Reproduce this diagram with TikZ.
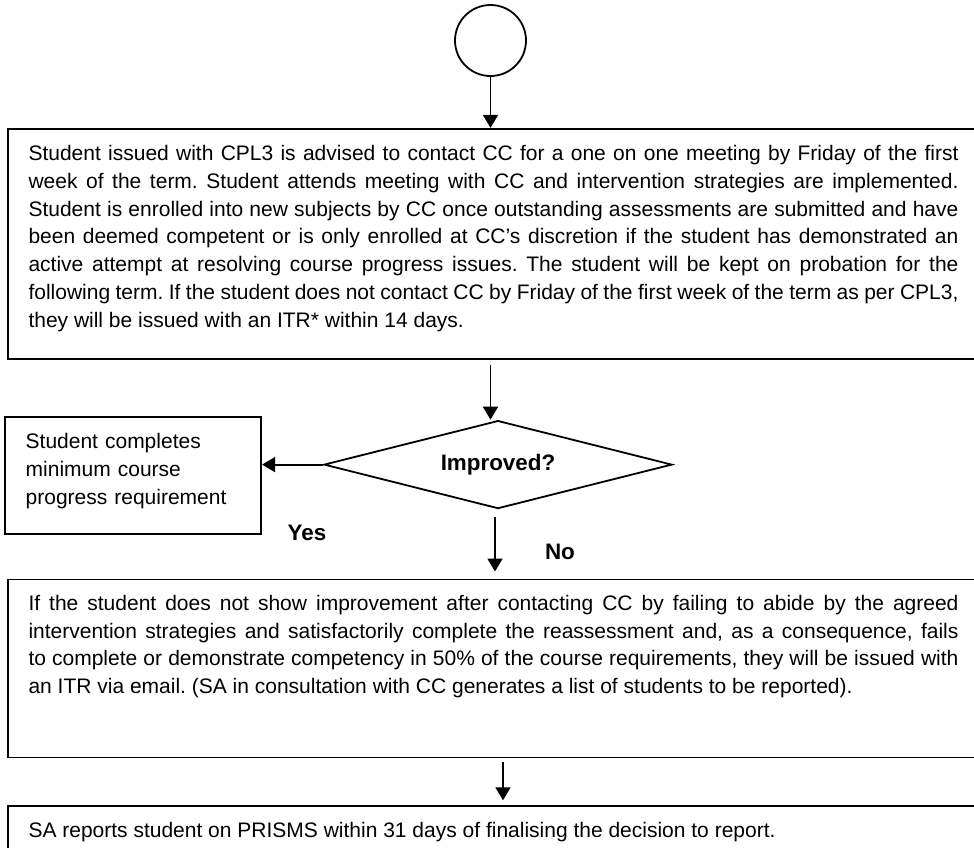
\documentclass[tikz,border=0pt]{standalone}
\usepackage{fontspec}
\setmainfont{Liberation Sans}
\usetikzlibrary{positioning,shapes.geometric,arrows.meta}
\tikzstyle{box} = [rectangle,
                  draw=black,
                  line width=0.9pt,
                  text width=465pt,
                  inner xsep=10.25pt,
                  inner ysep=0pt,
                  align=justify,
                  font=\fontsize{10.5}{13.85}\selectfont\frenchspacing]
\tikzstyle{smallbox} = [box,
                       text width=107.5pt,
                       align=left]
\tikzstyle{terminal} = [circle,
                       draw=black,
                       line width=0.9pt,
                       minimum size=35.5pt,
                       inner sep=0pt]
\tikzstyle{decision} = [diamond,
                       aspect=4,
                       draw=black,
                       line width=0.9pt,
                       minimum width=174pt,
                       minimum height=44pt,
                       inner sep=0pt,
                       font=\fontsize{11.2}{13}\selectfont\bfseries]
\tikzstyle{answer} = [font=\fontsize{11.2}{13}\selectfont\bfseries]
\tikzstyle{flowchart} = [>={Triangle[width=7.5pt,length=6.5pt]},
                        line width=0.9pt]

\begin{document}
\begin{tikzpicture}[flowchart]
    \useasboundingbox (0,0) rectangle (487pt,-423.5pt);
    \node (start) [terminal] at (245.25pt,-20.25pt) {};
    \node (cpl) [box, text height=16pt, text depth=99pt, below=25.5pt of start, xshift=1.5pt]
      {Student issued with CPL3 is advised to contact CC for a one on one meeting by Friday of the first\linebreak
       week of the term. Student attends meeting with CC and intervention strategies are implemented.\linebreak
       Student is enrolled into new subjects by CC once outstanding assessments are submitted and have\linebreak
       been deemed competent or is only enrolled at CC’s discretion if the student has demonstrated an\linebreak
       active attempt at resolving course progress issues. The student will be kept on probation for the\linebreak
       following term. If the student does not contact CC by Friday of the first week of the term as per CPL3,\linebreak
       they will be issued with an ITR* within 14 days.};
    \node (improved) [decision, below=30pt of cpl, xshift=2.25pt] {Improved?};
    \node (complete) [smallbox, text height=16pt, text depth=42.5pt, left=30.5pt of improved, yshift=-5.25pt]
      {Student completes\\ minimum course\\ progress requirement};
    \node (itr) [box, text height=15.5pt, text depth=73.5pt, below=34.5pt of improved, xshift=-2.25pt]
      {If the student does not show improvement after contacting CC by failing to abide by the agreed\linebreak
       intervention strategies and satisfactorily complete the reassessment and, as a consequence, fails\linebreak
       to complete or demonstrate competency in 50\% of the course requirements, they will be issued with\linebreak
       an ITR via email. (SA in consultation with CC generates a list of students to be reported).};
    \node (report) [box, text height=15.5pt, text depth=20pt, below=23.5pt of itr]
      {SA reports student on PRISMS within 31 days of finalising the decision to report.};
    \node (yes) [answer] at (153.5pt,-266.5pt) {Yes};
    \node (no) [answer] at (280pt,-276pt) {No};
    \path[->]
      (start) edge (start |- cpl.north)
      (cpl.south -| start) edge [shorten <=2.5pt] (start |- improved.north)
      (improved.west) edge (improved.west -| complete.east)
      ([xshift=-1.5pt]improved.south) edge [shorten <=3.5pt, shorten >=3.5pt] ([xshift=-1.5pt]improved.south |- itr.north)
      ([xshift=4.75pt]itr.south) edge [shorten <=2pt, shorten >=2.5pt] ([xshift=4.75pt]itr.south |- report.north);
\end{tikzpicture}
\end{document}
